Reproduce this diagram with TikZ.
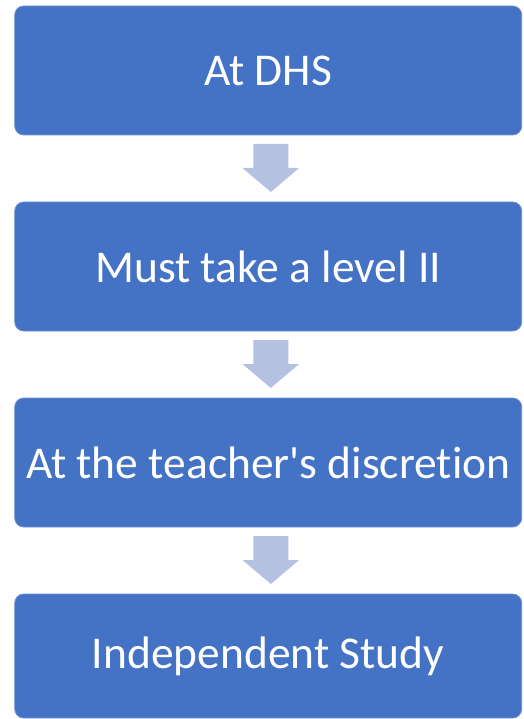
\documentclass[tikz,border=0pt]{standalone}
\usepackage{fontspec}
\setmainfont{Carlito}[Ligatures={TeX,NoCommon}]
\definecolor{boxblue}{HTML}{4472C4}
\definecolor{boxedge}{HTML}{6F8FD0}
\definecolor{arrowblue}{HTML}{B4C1E1}
\begin{document}
\begin{tikzpicture}[x=1pt,y=1pt,
  stepbox/.style={fill=boxblue, draw=boxedge, line width=0.8pt, rounded corners=9pt,
    minimum width=507pt, minimum height=129pt, inner sep=0pt, text=white,
    font=\fontsize{45.5}{54}\selectfont},
  flowarrow/.style={fill=arrowblue, draw=none}]
\useasboundingbox (0,0) rectangle (523,-719);
\node[stepbox] (b1) at (268.2,-70.5) {At DHS};
\node[stepbox] (b2) at (268.2,-266.5) {Must take a level II};
\node[stepbox] (b3) at (268.2,-462.5) {At the teacher\textquotesingle s discretion};
\node[stepbox, minimum height=124pt] (b4) at (268.2,-656) {Independent Study};
\coordinate (a1) at (270.8,-144);
\coordinate (a2) at (270.8,-340);
\coordinate (a3) at (270.8,-536);
\foreach \a in {a1,a2,a3}{
  \fill[flowarrow] (\a) ++(-17.5,0) -- ++(35,0) -- ++(0,-24) -- ++(10.8,0)
    -- ++(-28.3,-24) -- ++(-28.3,24) -- ++(10.8,0) -- cycle;
}
\end{tikzpicture}
\end{document}
